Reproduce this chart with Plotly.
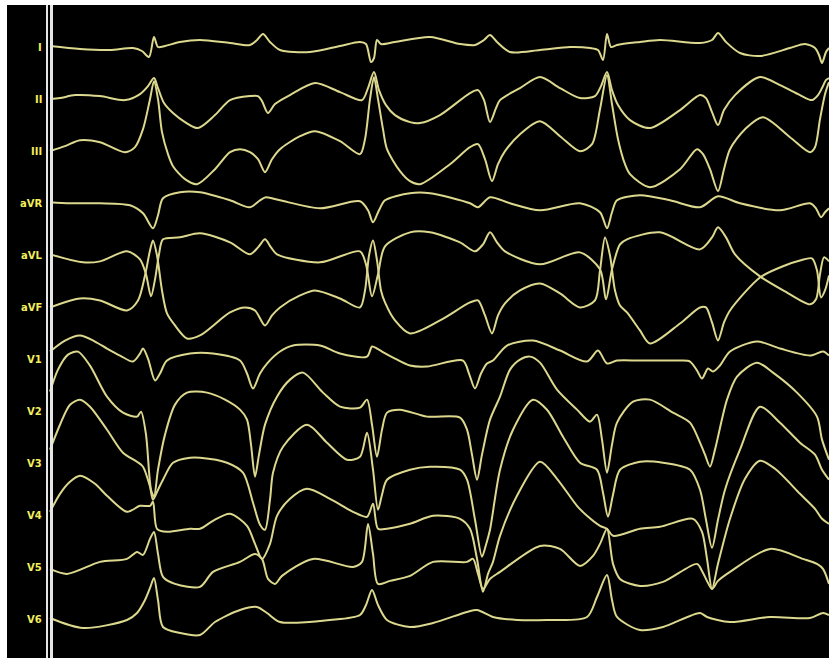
import plotly.graph_objects as go

# ---- data: 12-lead ECG, amplitude (positive = up) at sample times ----
leads = ["I", "II", "III", "aVR", "aVL", "aVF", "V1", "V2", "V3", "V4", "V5", "V6"]

t_I = [50, 80, 110, 133, 142, 149, 154, 158, 165, 180, 200, 230, 250, 257, 263, 270, 280, 310, 340, 360, 366, 371, 374, 377, 381, 395, 430, 460, 475, 484, 490, 497, 510, 540, 570, 590, 598, 603, 607, 611, 617, 640, 660, 700, 712, 718, 726, 740, 760, 790, 805, 815, 819, 822, 826, 829]
v_I = [1, -2, -3, -1, -4, -10, 10, 0, 1, 5, 7, 4, 2, 7, 13, 5, -3, -5, 1, 5, 3, -15, -11, 7, 3, 5, 10, 3, 2, 7, 12, 5, -5, -3, 0, -1, -3, -13, 13, 0, 2, 5, 7, 4, 7, 14, 5, -6, -9, -1, 3, -1, -8, -16, -5, -1]

t_II = [50, 60, 75, 100, 125, 140, 148, 154, 158, 164, 173, 185, 198, 215, 230, 250, 258, 262, 268, 275, 290, 315, 340, 362, 368, 374, 379, 386, 395, 410, 420, 440, 470, 478, 484, 490, 496, 500, 520, 540, 560, 580, 595, 601, 607, 612, 618, 630, 650, 680, 700, 706, 712, 718, 724, 735, 760, 780, 800, 812, 818, 822, 826, 829]
v_II = [0, 1, 4, 3, -1, 5, 13, 21, 11, -4, -14, -23, -29, -16, -1, 3, 3, -2, -14, -5, 4, 16, 7, -1, 11, 27, 9, -6, -16, -23, -24, -16, 6, 9, -1, -23, -9, -1, 11, 22, 11, 1, 3, 13, 27, 9, -6, -21, -29, -11, 4, 1, -13, -26, -11, 4, 22, 14, 4, -1, 4, 11, 19, 21]

t_III = [50, 65, 80, 100, 125, 135, 143, 150, 154, 158, 162, 168, 173, 185, 197, 215, 230, 240, 250, 258, 265, 272, 280, 300, 315, 340, 360, 365, 370, 374, 378, 383, 387, 400, 410, 420, 450, 470, 478, 485, 492, 498, 505, 520, 540, 560, 580, 592, 600, 607, 612, 618, 625, 630, 650, 680, 697, 703, 710, 718, 724, 730, 745, 763, 790, 810, 815, 820, 825, 829]
v_III = [0, 5, 11, 9, -1, 4, 22, 52, 70, 52, 19, -3, -15, -28, -33, -18, -1, 2, -1, -8, -21, -8, 2, 15, 20, 10, -3, 12, 52, 74, 52, 22, 2, -20, -30, -33, -13, 4, 7, -8, -30, -13, 0, 17, 30, 15, 0, 7, 42, 76, 47, 12, -13, -23, -36, -18, 2, -3, -18, -40, -18, 2, 22, 34, 14, -1, 4, 32, 57, 69]

t_aVR = [50, 70, 100, 130, 143, 153, 158, 163, 180, 200, 230, 250, 260, 266, 280, 320, 360, 368, 373, 379, 385, 410, 430, 470, 478, 490, 510, 540, 580, 600, 607, 612, 617, 640, 670, 700, 718, 740, 780, 810, 816, 821, 825, 829]
v_aVR = [1, 0, 0, -2, -10, -25, -12, 5, 11, 11, 3, -4, 3, 6, 3, -5, 2, -7, -19, -7, 3, 10, 10, 0, -4, 6, 0, -7, 0, -9, -25, -9, 3, 8, 3, -4, 7, 0, -7, 0, -5, -14, -9, -5]

t_aVL = [50, 83, 100, 127, 140, 146, 151, 155, 159, 163, 180, 200, 230, 250, 258, 265, 271, 277, 320, 360, 366, 372, 378, 385, 410, 430, 460, 475, 483, 490, 497, 505, 540, 580, 600, 606, 612, 620, 627, 660, 700, 712, 718, 726, 735, 760, 785, 810, 816, 820, 824, 829]
v_aVL = [1, -7, -6, 4, -4, -19, -41, -24, 1, 16, 18, 22, 13, 1, 8, 16, 8, 1, -7, 4, -9, -41, -19, 9, 23, 23, 13, 4, 11, 23, 13, 4, -9, 3, -14, -44, -14, 11, 16, 23, 6, 18, 28, 18, 1, -21, -36, -49, -44, -19, -2, -6]

t_aVF = [50, 80, 100, 127, 138, 145, 150, 153, 157, 162, 167, 175, 187, 200, 230, 245, 255, 265, 272, 280, 300, 315, 340, 360, 365, 369, 373, 377, 381, 385, 395, 410, 440, 470, 478, 485, 492, 498, 505, 520, 540, 560, 580, 595, 600, 605, 610, 615, 620, 627, 640, 650, 680, 700, 706, 712, 718, 724, 730, 760, 785, 800, 812, 817, 821, 825, 829]
v_aVF = [0, 9, 7, -3, 7, 32, 57, 67, 52, 17, -6, -18, -31, -28, -5, 0, -3, -18, -8, 0, 12, 17, 9, 0, 17, 52, 67, 47, 17, 5, -13, -26, -13, 5, 7, -8, -26, -8, 4, 17, 24, 14, 0, 7, 37, 70, 52, 17, 2, -5, -23, -36, -16, 0, 0, -15, -33, -15, -3, 30, 42, 47, 49, 37, 10, 17, 32]

t_V1 = [50, 65, 80, 95, 107, 120, 133, 140, 143, 148, 155, 160, 167, 190, 213, 240, 247, 253, 260, 267, 280, 293, 320, 340, 367, 372, 377, 382, 395, 410, 427, 463, 469, 475, 481, 487, 493, 507, 533, 560, 587, 598, 607, 617, 640, 680, 690, 697, 702, 708, 713, 720, 730, 757, 780, 810, 823, 829]
v_V1 = [8, 19, 24, 18, 11, 4, -2, 6, 11, 1, -21, -14, -1, 6, 6, -1, -14, -29, -14, -4, 8, 14, 14, 6, 3, 13, 11, 8, 1, -6, -7, -1, -14, -29, -14, -4, -1, 14, 19, 9, -2, 9, -4, -1, -1, -1, -2, -11, -19, -9, -12, -6, 8, 18, 11, 4, 8, 4]

t_V2 = [50, 58, 68, 78, 90, 107, 123, 137, 141, 146, 151, 154, 158, 165, 175, 187, 207, 225, 240, 247, 251, 255, 259, 265, 277, 290, 303, 323, 340, 360, 367, 372, 377, 382, 387, 400, 427, 460, 467, 472, 477, 482, 490, 500, 510, 520, 530, 540, 557, 577, 590, 597, 602, 607, 612, 617, 633, 650, 673, 690, 700, 705, 710, 715, 727, 737, 757, 773, 797, 817, 822, 829]
v_V2 = [20, 42, 57, 60, 46, 15, -1, -5, 0, -23, -78, -85, -58, -23, 7, 19, 19, 12, 2, -8, -33, -65, -43, -13, 15, 32, 39, 19, 5, 4, 12, -13, -45, -18, -1, 2, -5, -6, -18, -43, -68, -43, -8, 15, 42, 52, 55, 49, 22, 2, -10, -3, -28, -61, -33, -11, 10, 12, -1, -11, -31, -43, -55, -38, 12, 35, 49, 39, 19, -5, -28, -48]

t_V3 = [50, 60, 70, 80, 90, 107, 123, 137, 143, 150, 153, 158, 163, 173, 190, 200, 227, 243, 253, 260, 265, 270, 273, 283, 307, 327, 347, 360, 367, 373, 378, 382, 387, 410, 430, 460, 467, 475, 482, 486, 490, 500, 513, 533, 547, 563, 580, 597, 603, 608, 613, 620, 640, 663, 690, 700, 706, 712, 718, 725, 740, 760, 780, 800, 815, 822, 829]
v_V3 = [14, 39, 59, 64, 57, 34, 11, 2, -3, -23, -36, -26, -16, 1, 6, 6, 1, -9, -39, -61, -66, -36, -9, 17, 39, 21, 4, 7, 31, -6, -46, -31, -16, -6, -3, -6, -16, -56, -93, -81, -66, -6, 34, 64, 54, 27, 1, -6, -29, -53, -31, -6, 2, 1, -6, -26, -56, -84, -56, -26, 14, 57, 41, 21, 9, -6, -16]

t_V4 = [50, 60, 70, 80, 95, 107, 127, 140, 150, 153, 157, 167, 190, 200, 213, 230, 247, 255, 262, 270, 277, 290, 307, 330, 353, 367, 373, 378, 387, 410, 433, 460, 470, 477, 483, 488, 493, 500, 517, 540, 557, 577, 587, 600, 607, 613, 640, 660, 693, 702, 707, 712, 718, 730, 745, 760, 775, 800, 815, 822, 829]
v_V4 = [4, 22, 34, 40, 32, 20, 4, 10, 10, 14, -13, -16, -13, -13, -5, 2, -10, -28, -43, -28, 0, 17, 27, 17, 4, -1, 12, -13, -13, -8, 0, -3, -13, -43, -76, -58, -46, -20, 20, 54, 37, 10, 0, -10, -13, -20, -13, -11, -3, -16, -43, -73, -48, -3, 37, 55, 47, 22, 7, -3, -8]

t_V5 = [50, 67, 100, 127, 137, 143, 150, 154, 158, 163, 175, 200, 213, 240, 255, 262, 268, 275, 282, 313, 353, 362, 368, 373, 378, 390, 410, 433, 467, 473, 478, 483, 490, 500, 540, 560, 580, 593, 600, 607, 613, 620, 640, 663, 697, 702, 707, 712, 718, 730, 770, 803, 817, 823, 829]
v_V5 = [-1, -6, 6, 9, 16, 13, 29, 36, 14, -9, -16, -19, -4, 6, 14, 9, -11, -16, -8, 9, 1, 6, 44, 14, -16, -13, -8, 6, 6, 9, -6, -21, -11, -4, 22, 19, 2, 12, 24, 39, 4, -11, -18, -14, 4, -3, -13, -21, -13, -4, 19, 9, 4, -1, -16]

t_V6 = [50, 83, 127, 137, 145, 150, 154, 158, 163, 180, 200, 215, 240, 257, 267, 280, 330, 360, 366, 372, 378, 387, 410, 433, 467, 477, 493, 517, 547, 587, 597, 607, 612, 617, 640, 663, 700, 707, 730, 770, 810, 823, 829]
v_V6 = [2, -8, 0, 7, 20, 32, 42, 20, -7, -13, -15, -2, 10, 13, 7, -2, 0, 5, 15, 30, 15, 0, -7, -3, 8, 10, 3, 0, 0, 3, 23, 45, 20, 3, -10, -7, 7, 3, -2, 3, 2, 7, 5]

times = [t_I, t_II, t_III, t_aVR, t_aVL, t_aVF, t_V1, t_V2, t_V3, t_V4, t_V5, t_V6]
values = [v_I, v_II, v_III, v_aVR, v_aVL, v_aVF, v_V1, v_V2, v_V3, v_V4, v_V5, v_V6]

# ---- layout parameters ----
W, H = 829, 658
first_base = 47.0
spacing = 52.09
trace_color = "#dcd88e"
label_color = "#f3ee5e"

fig = go.Figure()
for i, (name, t, v) in enumerate(zip(leads, times, values)):
    base = -(first_base + spacing * i)
    fig.add_trace(go.Scatter(
        x=t, y=[base + a for a in v], mode="lines", name=name,
        line=dict(color=trace_color, width=2, shape="spline", smoothing=0.8),
        hoverinfo="skip", showlegend=False))
    fig.add_annotation(x=44, y=base, text="<b>%s</b>" % name, showarrow=False,
                       xanchor="right", yanchor="middle",
                       font=dict(family="DejaVu Sans, sans-serif", size=10, color=label_color))

# double white separator line
for xl, wl in [(47, 2), (51.5, 3)]:
    fig.add_shape(type="line", x0=xl, x1=xl, y0=-H, y1=0, xref="x", yref="y",
                  line=dict(color="#e6e6e6", width=wl), layer="above")

fig.update_layout(
    width=W, height=H,
    margin=dict(l=7, r=0, t=5, b=0),
    paper_bgcolor="white", plot_bgcolor="black",
    xaxis=dict(range=[7, W], visible=False, fixedrange=True),
    yaxis=dict(range=[-H, -5], visible=False, fixedrange=True),
)
fig.write_html("out.html", config={"displayModeBar": False},
               post_script="document.body.style.margin='0';document.body.style.overflow='hidden';")
